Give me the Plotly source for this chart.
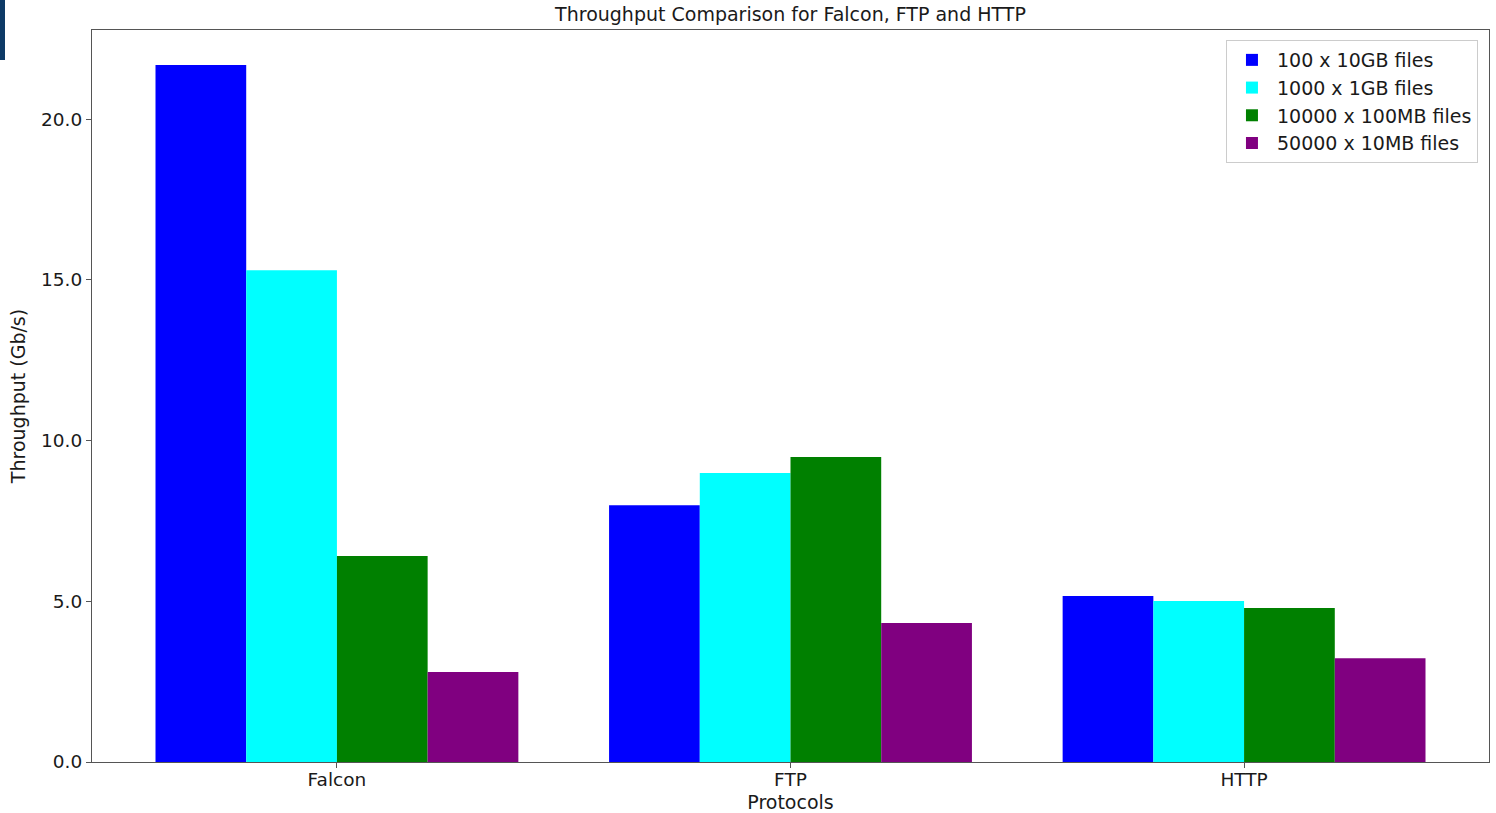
import plotly.graph_objects as go

protocols = ["Falcon", "FTP", "HTTP"]
series_names = ["100 x 10GB files", "1000 x 1GB files", "10000 x 100MB files", "50000 x 10MB files"]
vals_100x10GB = [21.68, 7.99, 5.16]
vals_1000x1GB = [15.30, 8.99, 5.01]
vals_10000x100MB = [6.41, 9.49, 4.79]
vals_50000x10MB = [2.80, 4.32, 3.23]
colors = ["#0000ff", "#00ffff", "#008000", "#800080"]

all_vals = [vals_100x10GB, vals_1000x1GB, vals_10000x100MB, vals_50000x10MB]

fig = go.Figure()
for name, vals, c in zip(series_names, all_vals, colors):
    fig.add_trace(go.Bar(x=protocols, y=vals, name=name, marker=dict(color=c, line=dict(width=0))))

font_family = "DejaVu Sans"
fig.update_layout(
    width=1496, height=813,
    margin=dict(l=92, r=7, t=30, b=51, autoexpand=False),
    plot_bgcolor="white", paper_bgcolor="white",
    barmode="group", bargap=0.2, bargroupgap=0,
    font=dict(family=font_family, size=18, color="#1a1a1a"),
    title=dict(text="Throughput Comparison for Falcon, FTP and HTTP", x=0.5284, xanchor="center",
               y=0.982, yanchor="middle", font=dict(size=19)),
    legend=dict(x=0.9921, xanchor="right", y=0.9863, yanchor="top",
                bordercolor="#cccccc", borderwidth=1, bgcolor="white",
                font=dict(size=19), itemwidth=40, tracegroupgap=0),
    xaxis=dict(range=[-0.54, 2.54], showline=True, linecolor="#555555", linewidth=1.2, mirror=True,
               ticks="outside", ticklen=5, tickcolor="#555555", showgrid=False, automargin=False,
               ticklabelstandoff=-4,
               title=dict(text="Protocols", standoff=8, font=dict(size=19)), tickfont=dict(size=18.5)),
    yaxis=dict(range=[0, 22.77], showline=True, linecolor="#555555", linewidth=1.2, mirror=True,
               ticks="outside", ticklen=5, tickcolor="#555555", showgrid=False, zeroline=False,
               tickvals=[0, 5, 10, 15, 20], tickformat=".1f", automargin=False,
               title=dict(text="Throughput (Gb/s)", standoff=10, font=dict(size=19)), tickfont=dict(size=18.5)),
)
fig.add_shape(type="rect", xref="paper", yref="paper", x0=-92/1397, x1=-87/1397,
              y0=(762-60)/732, y1=(762+0)/732 + 0.0, fillcolor="#0d3a66", line=dict(width=0), layer="above")
fig.write_html("out.html", config={"displayModeBar": False},
               post_script="document.body.style.margin='0';document.body.style.overflow='hidden';")
